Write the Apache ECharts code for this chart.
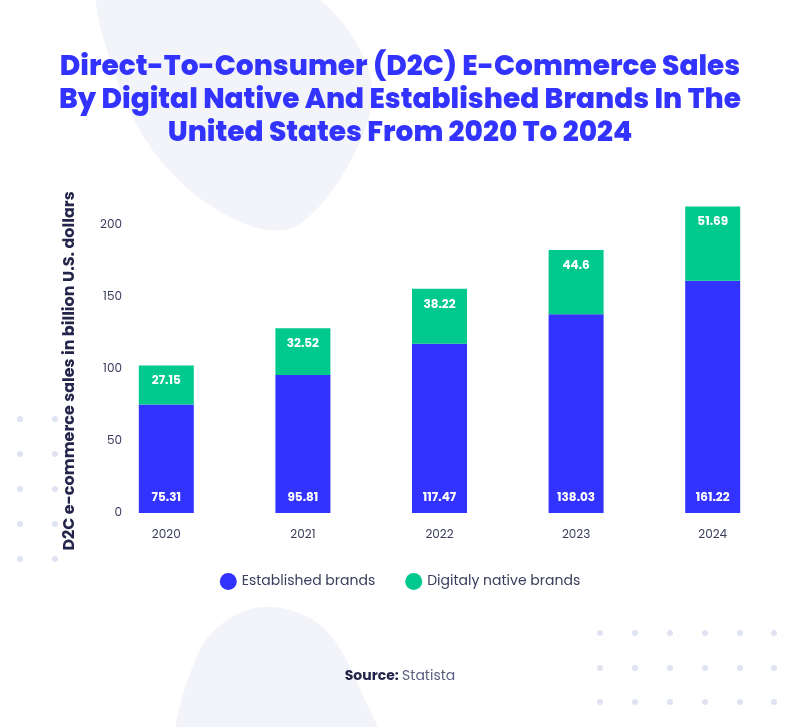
<!DOCTYPE html>
<html>
<head>
<meta charset="utf-8">
<script src="https://cdn.jsdelivr.net/npm/echarts@6/dist/echarts.min.js"></script>
<style>html,body{margin:0;padding:0;background:#fff}#c{width:800px;height:727px}</style>
</head>
<body>
<div id="c"></div>
<script>
var years = ['2020', '2021', '2022', '2023', '2024'];
var established = [75.31, 95.81, 117.47, 138.03, 161.22];
var digitalNative = [27.15, 32.52, 38.22, 44.6, 51.69];
var yTicks = [0, 50, 100, 150, 200];

var FONT = "'Poppins','Open Sans','Noto Sans',sans-serif";
var chart = echarts.init(document.getElementById('c'), null, {renderer: 'canvas'});

var dots = [];
[20, 55].forEach(function (x) {
  [419, 454, 489, 524, 559].forEach(function (y) {
    dots.push({type: 'circle', z: -5, silent: true, shape: {cx: x, cy: y, r: 3}, style: {fill: '#dfe3f2'}});
  });
});
[600, 635, 670, 705, 740, 774].forEach(function (x) {
  [633, 668, 702].forEach(function (y) {
    dots.push({type: 'circle', z: -5, silent: true, shape: {cx: x, cy: y, r: 3}, style: {fill: '#dfe3f2'}});
  });
});

var option = {
  backgroundColor: '#ffffff',
  title: {
    text: 'Direct-To-Consumer (D2C) E-Commerce Sales\nBy Digital Native And Established Brands In The\nUnited States From 2020 To 2024',
    left: 'center',
    top: 46,
    textStyle: {fontFamily: FONT, fontSize: 28, fontWeight: 800, lineHeight: 33, color: '#3333ff', align: 'center'}
  },
  graphic: [
    {type: 'polygon', z: -10, silent: true,
      shape: {smooth: 0.35, points: [[105, -20], [300, -10], [365, 60], [365, 130], [300, 224], [240, 222], [160, 160], [110, 60]]},
      style: {fill: '#f3f4f9'}},
    {type: 'polygon', z: -10, silent: true,
      shape: {smooth: 0.35, points: [[185, 760], [200, 650], [255, 608], [320, 625], [365, 700], [380, 760]]},
      style: {fill: '#f3f4f9'}},
    {type: 'text', z: 5, silent: true, x: 70, y: 371, rotation: Math.PI / 2,
      style: {text: 'D2C e-commerce sales in billion U.S. dollars', font: 'bold 16px ' + FONT,
        fill: '#23264a', align: 'center', verticalAlign: 'middle'}},
    {type: 'text', z: 5, silent: true, x: 400, y: 676,
      style: {text: '{b|Source:} {n|Statista}', align: 'center', verticalAlign: 'middle',
        rich: {b: {fontFamily: FONT, fontSize: 14, fontWeight: 'bold', fill: '#23264a'},
               n: {fontFamily: FONT, fontSize: 14, fill: '#5b5f80'}}}}
  ].concat(dots),
  legend: {
    bottom: 132,
    left: 'center',
    icon: 'circle',
    itemWidth: 17,
    itemHeight: 17,
    itemGap: 30,
    textStyle: {fontFamily: FONT, fontSize: 14, color: '#3a3d5c'},
    data: ['Established brands', 'Digitaly native brands']
  },
  grid: {left: 98, right: 19, top: 153, bottom: 214, containLabel: false},
  xAxis: {
    type: 'category',
    data: years,
    axisLine: {show: false},
    axisTick: {show: false},
    axisLabel: {fontFamily: FONT, fontSize: 12, color: '#3a3d5c', margin: 16}
  },
  yAxis: {
    type: 'value',
    min: 0,
    max: 250,
    interval: 50,
    splitLine: {show: false},
    axisLine: {show: false},
    axisTick: {show: false},
    axisLabel: {
      fontFamily: FONT, fontSize: 12, color: '#3a3d5c', margin: -24, verticalAlign: 'middle', padding: [3, 0, 0, 0],
      formatter: function (v) { return yTicks.indexOf(v) >= 0 ? String(v) : ''; }
    }
  },
  series: [
    {
      name: 'Established brands', type: 'bar', stack: 'total', barWidth: 55,
      data: established,
      itemStyle: {color: '#3333ff'},
      label: {show: true, position: 'insideBottom', distance: 9, color: '#ffffff',
        fontFamily: FONT, fontSize: 12, fontWeight: 'bold'}
    },
    {
      name: 'Digitaly native brands', type: 'bar', stack: 'total', barWidth: 55,
      data: digitalNative,
      itemStyle: {color: '#00c98d'},
      label: {show: true, position: 'insideTop', distance: 10, color: '#ffffff',
        fontFamily: FONT, fontSize: 12, fontWeight: 'bold'}
    }
  ]
};
chart.setOption(option);
</script>
</body>
</html>
